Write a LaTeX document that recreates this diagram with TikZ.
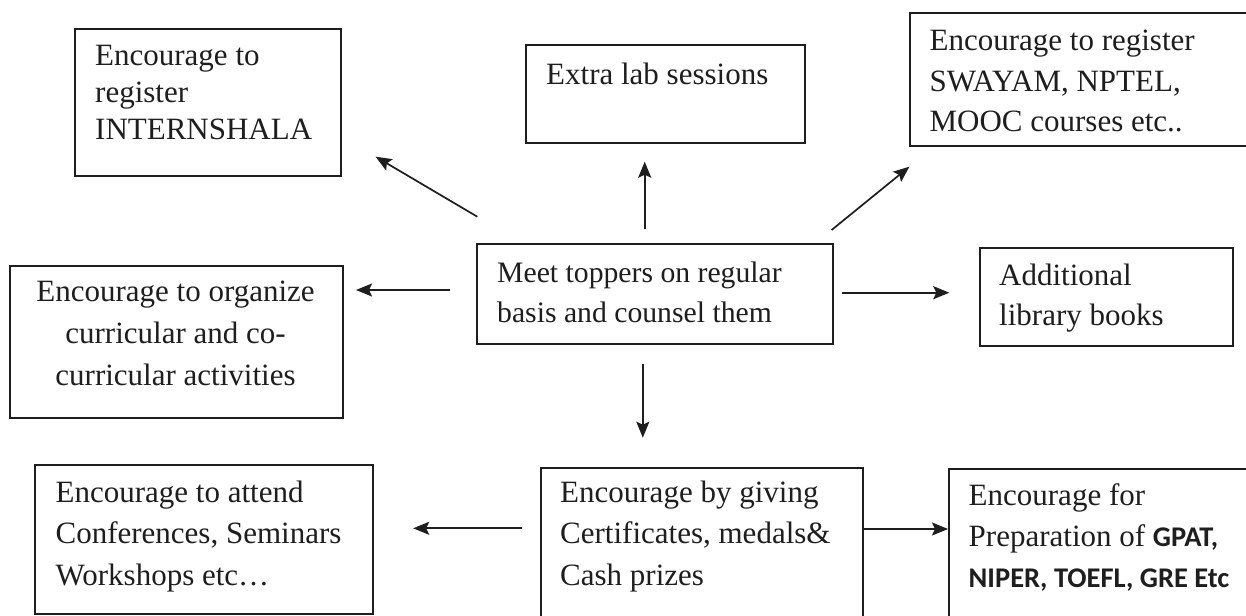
\documentclass[tikz,border=0pt]{standalone}
\usepackage{fontspec}
\setmainfont{Liberation Serif}
\newfontfamily\calb{Carlito Bold}
\usetikzlibrary{arrows.meta}
\definecolor{ink}{RGB}{30,30,30}
\newcommand{\lns}[2]{\begin{tabular}[t]{@{}#1@{}}#2\end{tabular}}
\tikzset{
  box/.style={draw=ink, line width=2pt, anchor=north west, inner sep=0pt},
  txt/.style={inner sep=0pt, anchor=base west, text=ink},
  arr/.style={draw=ink, line width=1.7pt, -{Stealth[length=16pt,width=13pt,inset=3pt]}}
}
\begin{document}
\begin{tikzpicture}[x=1pt,y=-1pt]
\useasboundingbox (0,0) rectangle (1246,615);
\clip (0,0) rectangle (1246,615);
\fill[white] (0,0) rectangle (1246,615);
% boxes
\node[box, minimum width=266pt, minimum height=147pt] (A) at (74,28) {};
\node[box, minimum width=279pt, minimum height=98pt] (B) at (525,44) {};
\node[box, minimum width=360pt, minimum height=133pt] (C) at (908.6,12) {};
\node[box, minimum width=333.5pt, minimum height=152pt] (D) at (8.5,265) {};
\node[box, minimum width=356.5pt, minimum height=99.7pt] (E) at (475.5,243.3) {};
\node[box, minimum width=253pt, minimum height=98.3pt] (F) at (978.5,246.7) {};
\node[box, minimum width=338pt, minimum height=149.3pt] (G) at (33.6,464) {};
\node[box, minimum width=321.5pt, minimum height=160pt] (H) at (540,467) {};
\node[box, minimum width=320pt, minimum height=160pt] (I) at (948,468) {};
% texts
\node[txt, font=\fontsize{31}{37}\selectfont] (tA) at (95,66) {\lns{l}{Encourage to\\register\\INTERNSHALA}};
\node[txt, font=\fontsize{31}{41}\selectfont] (tB) at (546,85) {\lns{l}{Extra lab sessions}};
\node[txt, font=\fontsize{31}{40.5}\selectfont] (tC) at (929.4,51) {\lns{l}{Encourage to register\\SWAYAM, NPTEL,\\MOOC courses etc..}};
\node[txt, anchor=base, font=\fontsize{31}{41.7}\selectfont] (tD) at (175.5,301.7) {\lns{c}{Encourage to organize\\curricular and co-\\curricular activities}};
\node[txt, font=\fontsize{29.7}{40}\selectfont] (tE) at (497,282) {\lns{l}{Meet toppers on regular\\basis and counsel them}};
\node[txt, font=\fontsize{31}{40}\selectfont] (tF) at (999,285) {\lns{l}{Additional\\library books}};
\node[txt, font=\fontsize{31}{41.5}\selectfont] (tG) at (55.4,502) {\lns{l}{Encourage to attend\\Conferences, Seminars\\Workshops etc…}};
\node[txt, font=\fontsize{31}{41.5}\selectfont] (tH) at (560,502) {\lns{l}{Encourage by giving\\Certificates, medals\&\\Cash prizes}};
\node[txt, font=\fontsize{31}{41}\selectfont] (tI) at (968.5,505) {\lns{l}{Encourage for\\Preparation of {\calb\fontsize{28.5}{41}\selectfont GPAT,}\\{\calb\fontsize{28.5}{41}\selectfont NIPER, TOEFL, GRE Etc}}};
% arrow end points
\coordinate (eA) at (477.3,216.7); \coordinate (aA) at (375.6,156.7);
\coordinate (eB) at (644.7,229.3); \coordinate (aB) at (644.7,161.7);
\coordinate (eC) at (831.6,230);   \coordinate (aC) at (909.4,166.7);
\coordinate (eD) at (450,290);     \coordinate (aD) at (356,290);
\coordinate (eF) at (842.4,292.7); \coordinate (aF) at (949.3,292.7);
\coordinate (eH) at (642.8,364.3); \coordinate (aH) at (642.8,437.7);
\coordinate (hG) at (522,528.3);   \coordinate (aG) at (413.2,528.3);
% arrows
\draw[arr] (eA) -- (aA);
\draw[arr] (eB) -- (aB);
\draw[arr] (eC) -- (aC);
\draw[arr] (eD) -- (aD);
\draw[arr] (eF) -- (aF);
\draw[arr] (eH) -- (aH);
\draw[arr] (hG) -- (aG);
\draw[arr] (H.east |- 0,529) -- (I.west |- 0,529);
\end{tikzpicture}
\end{document}
